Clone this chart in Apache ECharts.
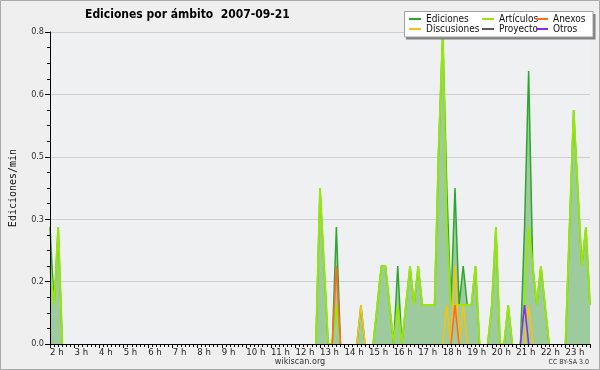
<!DOCTYPE html>
<html><head><meta charset="utf-8">
<script src="https://cdn.jsdelivr.net/npm/echarts@6/dist/echarts.min.js"></script>
<style>html,body{margin:0;padding:0;background:#efefef}#c{width:600px;height:370px}</style>
</head><body><div id="c"></div>
<script>
// 10-minute slots from 2 h to 24 h (one row per hour)
const ediciones = [
0.3,0.1,0.3,0,0,0,
0,0,0,0,0,0, 0,0,0,0,0,0, 0,0,0,0,0,0, 0,0,0,0,0,0, 0,0,0,0,0,0,
0,0,0,0,0,0, 0,0,0,0,0,0, 0,0,0,0,0,0, 0,0,0,0,0,0, 0,0,0,0,0,0,
0.4,0.2,0,0,0.3,0,
0,0,0,0,0.1,0,
0,0,0.1,0.2,0.2,0.1,
0,0.2,0,0.1,0.2,0.1,
0.2,0.1,0.1,0.1,0.1,0.5,
0.8,0.4,0.1,0.4,0.1,0.2,
0.1,0.1,0.2,0,0,0,
0.1,0.3,0,0,0.1,0,
0,0,0.3,0.7,0.2,0.1,
0.2,0.1,0,0,0,0,
0,0.3,0.6,0.4,0.2,0.3,
0.1];
const articulos = [
0.2,0.1,0.3,0,0,0,
0,0,0,0,0,0, 0,0,0,0,0,0, 0,0,0,0,0,0, 0,0,0,0,0,0, 0,0,0,0,0,0,
0,0,0,0,0,0, 0,0,0,0,0,0, 0,0,0,0,0,0, 0,0,0,0,0,0, 0,0,0,0,0,0,
0.4,0.2,0,0,0.1,0,
0,0,0,0,0,0,
0,0,0.1,0.2,0.2,0.1,
0,0.1,0,0.1,0.2,0.1,
0.2,0.1,0.1,0.1,0.1,0.5,
0.8,0.3,0.1,0.1,0.1,0.1,
0.1,0.1,0.2,0,0,0,
0.1,0.3,0,0,0.1,0,
0,0,0.1,0.3,0.2,0.1,
0.2,0.1,0,0,0,0,
0,0.3,0.6,0.4,0.2,0.3,
0.1];
const discusiones = [
0,0,0,0,0,0,
0,0,0,0,0,0, 0,0,0,0,0,0, 0,0,0,0,0,0, 0,0,0,0,0,0, 0,0,0,0,0,0,
0,0,0,0,0,0, 0,0,0,0,0,0, 0,0,0,0,0,0, 0,0,0,0,0,0, 0,0,0,0,0,0,
0,0,0,0,0,0,
0,0,0,0,0.1,0,
0,0,0,0,0,0,
0,0,0,0,0,0,
0,0,0,0,0,0,
0,0.1,0,0.2,0,0.1,
0,0,0,0,0,0,
0,0,0,0,0,0,
0,0,0,0.1,0,0,
0,0,0,0,0,0,
0,0,0,0,0,0,
0];
const anexos = [
0,0,0,0,0,0,
0,0,0,0,0,0, 0,0,0,0,0,0, 0,0,0,0,0,0, 0,0,0,0,0,0, 0,0,0,0,0,0,
0,0,0,0,0,0, 0,0,0,0,0,0, 0,0,0,0,0,0, 0,0,0,0,0,0, 0,0,0,0,0,0,
0,0,0,0,0.2,0,
0,0,0,0,0,0,
0,0,0,0,0,0,
0,0,0,0,0,0,
0,0,0,0,0,0,
0,0,0,0.1,0,0,
0,0,0,0,0,0,
0,0,0,0,0,0,
0,0,0,0,0,0,
0,0,0,0,0,0,
0,0,0,0,0,0,
0];
const proyecto = [
0,0,0,0,0,0,
0,0,0,0,0,0, 0,0,0,0,0,0, 0,0,0,0,0,0, 0,0,0,0,0,0, 0,0,0,0,0,0,
0,0,0,0,0,0, 0,0,0,0,0,0, 0,0,0,0,0,0, 0,0,0,0,0,0, 0,0,0,0,0,0,
0,0,0,0,0,0, 0,0,0,0,0,0, 0,0,0,0,0,0, 0,0,0,0,0,0, 0,0,0,0,0,0,
0,0,0,0,0,0, 0,0,0,0,0,0, 0,0,0,0,0,0, 0,0,0,0,0,0, 0,0,0,0,0,0,
0,0,0,0,0,0,
0];
const otros = [
0,0,0,0,0,0,
0,0,0,0,0,0, 0,0,0,0,0,0, 0,0,0,0,0,0, 0,0,0,0,0,0, 0,0,0,0,0,0,
0,0,0,0,0,0, 0,0,0,0,0,0, 0,0,0,0,0,0, 0,0,0,0,0,0, 0,0,0,0,0,0,
0,0,0,0,0,0,
0,0,0,0,0,0,
0,0,0,0,0,0,
0,0,0,0,0,0,
0,0,0,0,0,0,
0,0,0,0,0,0,
0,0,0,0,0,0,
0,0,0,0,0,0,
0,0,0.1,0,0,0,
0,0,0,0,0,0,
0,0,0,0,0,0,
0];
const xTickLabels = ['2 h','3 h','4 h','5 h','6 h','7 h','8 h','9 h','10 h','11 h','12 h','13 h','14 h','15 h','16 h','17 h','18 h','19 h','20 h','21 h','22 h','23 h'];
const yTickLabels = ['0.0','0.2','0.3','0.5','0.6','0.8'];
const startHour = 2, slotsPerHour = 6;

const slots = ediciones.map((_, i) => startHour + i / slotsPerHour);
function pairs(vals) {
  return vals.map((v, i) => {
    const empty = v === 0 && (i === 0 || vals[i-1] === 0) && (i === vals.length - 1 || vals[i+1] === 0);
    return [slots[i], empty ? '-' : v];
  });
}
const FONT = 'DejaVu Sans Condensed';
const chart = echarts.init(document.getElementById('c'), null, {renderer: 'canvas'});
function line(name, vals, color, z, width, area) {
  const s = {name, type: 'line', data: pairs(vals), symbol: 'none', z,
    lineStyle: {color, width}, itemStyle: {color}, emphasis: {disabled: true}};
  if (area) s.areaStyle = {color: area, opacity: 1};
  return s;
}
const legendBase = {orient: 'vertical', top: 14, itemWidth: 12, itemHeight: 2, itemGap: 0, icon: 'rect',
  textStyle: {fontFamily: FONT, fontSize: 10, color: '#111', lineHeight: 10}, selectedMode: false, z: 60, padding: 0};
chart.setOption({
  animation: false,
  backgroundColor: '#efefef',
  title: {text: 'Ediciones por ámbito  2007-09-21', left: 85, top: 9, padding: 0,
    textStyle: {fontFamily: FONT, fontWeight: 'bold', fontSize: 12, color: '#000'}},
  grid: {left: 46, right: 10, top: 32, bottom: 26, show: true, backgroundColor: '#eef0f2', borderWidth: 0},
  legend: [
    Object.assign({}, legendBase, {left: 409, data: ['Ediciones', 'Discusiones']}),
    Object.assign({}, legendBase, {left: 482, data: ['Artículos', 'Proyecto']}),
    Object.assign({}, legendBase, {left: 536, data: ['Anexos', 'Otros']})
  ],
  xAxis: {type: 'value', min: 2, max: 24, interval: 1, z: 10,
    axisLine: {lineStyle: {color: '#000', width: 1}},
    axisTick: {length: 4, lineStyle: {color: '#000'}},
    minorTick: {show: true, splitNumber: 6, length: 3, lineStyle: {color: '#000'}},
    splitLine: {show: false},
    axisLabel: {formatter: v => xTickLabels[v - startHour] || '', align: 'left', margin: 4,
      fontFamily: FONT, fontSize: 9.5, color: '#222', showMaxLabel: false}},
  yAxis: [
    {type: 'value', min: 0, max: 0.8, interval: 0.16, z: 0,
      axisLine: {show: false}, axisTick: {show: false}, axisLabel: {show: false},
      splitLine: {lineStyle: {color: '#cfcfcf'}}},
    {type: 'value', min: 0, max: 0.8, interval: 0.16, z: 10, position: 'left',
      axisLine: {show: true, lineStyle: {color: '#000'}},
      axisTick: {show: true, length: 5, lineStyle: {color: '#000'}},
      minorTick: {show: true, splitNumber: 4, length: 3, lineStyle: {color: '#000'}},
      splitLine: {show: false},
      axisLabel: {formatter: v => yTickLabels[Math.round(v / 0.16)], margin: 6, fontFamily: FONT, fontSize: 9, color: '#333'},
      name: 'Ediciones/min', nameLocation: 'middle', nameGap: 32,
      nameTextStyle: {fontFamily: 'DejaVu Sans Mono', fontSize: 10, color: '#111'}}
  ],
  graphic: [
    {type: 'rect', z: 50, shape: {x: 406, y: 14, width: 189.5, height: 25.5}, style: {fill: '#808080'}},
    {type: 'rect', z: 51, shape: {x: 404.5, y: 11.5, width: 188.5, height: 25.5}, style: {fill: '#ffffff', stroke: '#a0a0a0', lineWidth: 1}},
    {type: 'text', z: 50, style: {text: 'wikiscan.org', x: 300, y: 362, align: 'center', verticalAlign: 'middle', font: '9px "DejaVu Sans Condensed"', fill: '#333'}},
    {type: 'text', z: 50, style: {text: 'CC BY-SA 3.0', x: 589, y: 362, align: 'right', verticalAlign: 'middle', font: '7px "DejaVu Sans Condensed"', fill: '#333'}},
    {type: 'rect', z: 50, shape: {x: 0.5, y: 0.5, width: 599, height: 369}, style: {fill: null, stroke: '#aaaaaa', lineWidth: 1}}
  ],
  series: [
    line('Ediciones', ediciones, '#2ea62e', 2, 1.5, '#9dcb9d'),
    line('Artículos', articulos, '#99e60c', 3, 1.9),
    line('Discusiones', discusiones, '#f7c215', 4, 1.6),
    line('Anexos', anexos, '#ff6a2a', 5, 1.6),
    line('Proyecto', proyecto, '#555555', 6, 1.5),
    line('Otros', otros, '#8a2cf0', 7, 1.6)
  ]
});
</script></body></html>
